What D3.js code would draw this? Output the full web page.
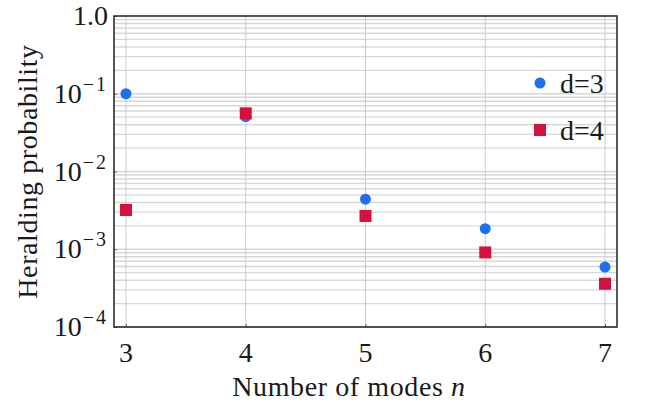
<!DOCTYPE html>
<html lang="en">
<head>
<meta charset="UTF-8" />
<title>Heralding probability</title>
<script src="https://d3js.org/d3.v7.min.js"></script>
<style>
  body { margin: 0; background: #fff; }
  text { font-family: "Liberation Serif", "Times New Roman", serif; fill: #1a1a1a; }
</style>
</head>
<body>
<div id="chart"></div>
<script>
// data
const modes = [3, 4, 5, 6, 7];
const probD3 = [0.1, 0.051, 0.0044, 0.00184, 0.00059];
const probD4 = [0.0032, 0.056, 0.00268, 0.00091, 0.00036];
const seriesNames = ["d=3", "d=4"];
const yTicks = [1e-4, 1e-3, 1e-2, 1e-1, 1];
const yTickExp = [-4, -3, -2, -1, 0];

const W = 646, H = 410;
const margin = { top: 16, right: 29, bottom: 83, left: 114 };
const width = W - margin.left - margin.right,
      height = H - margin.top - margin.bottom;
const fs = 28;

const svg = d3.select("#chart").append("svg")
  .attr("width", W).attr("height", H);
const g = svg.append("g")
  .attr("transform", "translate(" + margin.left + "," + margin.top + ")");

const x = d3.scaleLinear().domain([2.9, 7.1]).range([0, width]);
const y = d3.scaleLog().domain([1e-4, 1]).range([height, 0]);

// horizontal grid: every 1..9 x 10^k
const minor = [];
for (let k = -4; k < 0; k++)
  for (let m = 1; m < 10; m++) minor.push(m * Math.pow(10, k));
g.append("g").selectAll("line").data(minor).join("line")
  .attr("x1", 0).attr("x2", width)
  .attr("y1", d => y(d)).attr("y2", d => y(d))
  .attr("stroke", "#d8d8d8").attr("stroke-width", 1.4);

// vertical grid
g.append("g").selectAll("line").data(modes).join("line")
  .attr("x1", d => x(d)).attr("x2", d => x(d))
  .attr("y1", 0).attr("y2", height)
  .attr("stroke", "#cccccc").attr("stroke-width", 1);

// axes (ticks only, labels drawn by hand for superscripts)
const xAxis = g.append("g").attr("transform", "translate(0," + height + ")")
  .call(d3.axisBottom(x).tickValues(modes).tickSize(-3).tickFormat(""));
xAxis.select(".domain").remove();
xAxis.selectAll("line").attr("stroke", "#666");

xAxis.selectAll(".xl").data(modes).join("text")
  .attr("class", "xl")
  .attr("x", d => x(d)).attr("y", 35)
  .attr("text-anchor", "middle")
  .style("font-size", fs + "px")
  .text(d => d);

const yAxis = g.append("g")
  .call(d3.axisLeft(y).tickValues(yTicks).tickSize(-3).tickFormat(""));
yAxis.select(".domain").remove();
yAxis.selectAll("line").attr("stroke", "#666");

const yl = g.append("g").selectAll("text").data(yTicks).join("text")
  .attr("x", -6).attr("y", d => y(d) + 9)
  .attr("text-anchor", "end")
  .style("font-size", fs + "px");
yl.each(function (d, i) {
  const t = d3.select(this);
  if (yTickExp[i] === 0) { t.text("1.0"); return; }
  t.append("tspan").text("10");
  t.append("tspan").attr("dy", -12).attr("dx", 1)
    .style("font-size", "20px").style("letter-spacing", "2px")
    .text("\u2212" + Math.abs(yTickExp[i]));
});

// frame
g.append("rect").attr("width", width).attr("height", height)
  .attr("fill", "none").attr("stroke", "#222").attr("stroke-width", 1.5);

// points
g.append("g").selectAll("circle").data(modes).join("circle")
  .attr("cx", d => x(d)).attr("cy", (d, i) => y(probD3[i]))
  .attr("r", 5.5).attr("fill", "#1f6ff2");

const sq = 12;
g.append("g").selectAll("rect").data(modes).join("rect")
  .attr("x", d => x(d) - sq / 2).attr("y", (d, i) => y(probD4[i]) - sq / 2)
  .attr("width", sq).attr("height", sq).attr("fill", "#d4103f");

// legend
const leg = g.append("g").attr("transform", "translate(" + (width - 94) + ",67)");
leg.append("circle").attr("cx", 17).attr("cy", 0).attr("r", 5.5).attr("fill", "#1f6ff2");
leg.append("text").attr("x", 37).attr("y", 10).style("font-size", fs + "px").text(seriesNames[0]);
leg.append("rect").attr("x", 11).attr("y", 41).attr("width", sq).attr("height", sq).attr("fill", "#d4103f");
leg.append("text").attr("x", 37).attr("y", 57).style("font-size", fs + "px").text(seriesNames[1]);

// axis titles
svg.append("text")
  .attr("x", 349).attr("y", 396)
  .attr("text-anchor", "middle").style("font-size", fs + "px")
  .style("letter-spacing", "0.6px")
  .html("Number of modes <tspan font-style='italic'>n</tspan>");

svg.append("text")
  .attr("transform", "translate(37," + (margin.top + height / 2) + ") rotate(-90)")
  .attr("text-anchor", "middle").style("font-size", fs + "px")
  .style("letter-spacing", "0.6px")
  .text("Heralding probability");
</script>
</body>
</html>
